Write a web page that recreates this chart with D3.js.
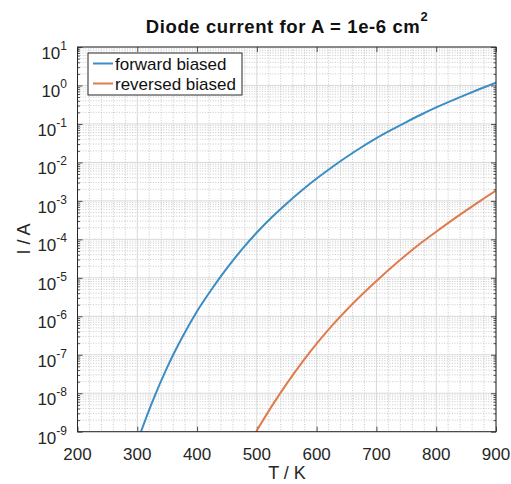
<!DOCTYPE html>
<html>
<head>
<meta charset="utf-8">
<script src="https://cdn.jsdelivr.net/npm/d3@7"></script>
<style>
  html, body { margin: 0; padding: 0; background: #fff; }
  svg { display: block; font-family: "Liberation Sans", Arial, Helvetica, sans-serif; }
</style>
</head>
<body>
<svg id="chart" width="511" height="484"></svg>
<script>
// ---- data ----
const forwardT = [300, 325, 350, 375, 400, 425, 450, 475, 500, 525, 550, 575, 600, 625, 650, 675, 700, 725, 750, 775, 800, 825, 850, 875, 900];
const forwardI = [5.5e-10, 5.9e-9, 4.7e-8, 2.8e-7, 1.35e-6, 5.2e-6, 1.78e-5, 5.5e-5, 1.51e-4, 3.76e-4, 8.6e-4, 1.86e-3, 3.8e-3,
                  7.4e-3, 1.38e-2, 2.48e-2, 4.27e-2, 7.0e-2, 0.112, 0.176, 0.269, 0.398, 0.579, 0.832, 1.175];
const reverseT = [475, 500, 525, 550, 575, 600, 625, 650, 675, 700, 725, 750, 775, 800, 825, 850, 875, 900];
const reverseI = [2.14e-10, 1.07e-9, 4.62e-9, 1.78e-8, 6.17e-8, 1.95e-7, 5.56e-7, 1.46e-6, 3.59e-6, 8.32e-6,
                  1.86e-5, 3.98e-5, 8.13e-5, 1.58e-4, 3.02e-4, 5.62e-4, 1.035e-3, 1.86e-3];
const xTicks = [200, 300, 400, 500, 600, 700, 800, 900];
const yExponents = [-9, -8, -7, -6, -5, -4, -3, -2, -1, 0, 1];
const seriesNames = ["forward biased", "reversed biased"];
const seriesColors = ["#3b8dc5", "#e07b4c"];

// ---- layout ----
const svg = d3.select("#chart");
const pL = 77.5, pR = 496, pT = 47, pB = 431.7;
const x = d3.scaleLinear().domain([200, 900]).range([pL, pR]);
const y = d3.scaleLog().domain([1e-9, 10]).range([pB, pT]);
const axisColor = "#262626";

svg.append("defs").append("clipPath").attr("id", "plotclip")
  .append("rect").attr("x", pL).attr("y", pT).attr("width", pR - pL).attr("height", pB - pT);

// ---- grid ----
const grid = svg.append("g");
const xMinor = d3.range(200, 901, 20).filter(v => v % 100 !== 0);
grid.selectAll(".xminor").data(xMinor).join("line")
  .attr("x1", d => x(d)).attr("x2", d => x(d)).attr("y1", pT).attr("y2", pB)
  .attr("stroke", "#bababa").attr("stroke-width", 0.8).attr("stroke-dasharray", "1 1.6");
const yMinor = [];
yExponents.slice(0, -1).forEach(e => { for (let k = 2; k <= 9; k++) yMinor.push(k * Math.pow(10, e)); });
grid.selectAll(".yminor").data(yMinor).join("line")
  .attr("x1", pL).attr("x2", pR).attr("y1", d => y(d)).attr("y2", d => y(d))
  .attr("stroke", "#bababa").attr("stroke-width", 0.8).attr("stroke-dasharray", "1 1.6");
grid.selectAll(".xmajor").data(xTicks).join("line")
  .attr("x1", d => x(d)).attr("x2", d => x(d)).attr("y1", pT).attr("y2", pB)
  .attr("stroke", "#d8d8d8").attr("stroke-width", 1);
grid.selectAll(".ymajor").data(yExponents).join("line")
  .attr("x1", pL).attr("x2", pR).attr("y1", d => y(Math.pow(10, d))).attr("y2", d => y(Math.pow(10, d)))
  .attr("stroke", "#d8d8d8").attr("stroke-width", 1);

// ---- axes (ticks inward, box) ----
const yMajorVals = yExponents.map(e => Math.pow(10, e));
svg.append("g").attr("transform", `translate(0,${pB})`).call(d3.axisBottom(x).tickValues(xTicks).tickSize(-5).tickFormat(""));
svg.append("g").attr("transform", `translate(0,${pT})`).call(d3.axisTop(x).tickValues(xTicks).tickSize(-5).tickFormat(""));
svg.append("g").attr("transform", `translate(${pL},0)`).call(d3.axisLeft(y).tickValues(yMajorVals).tickSize(-5).tickFormat(""));
svg.append("g").attr("transform", `translate(${pR},0)`).call(d3.axisRight(y).tickValues(yMajorVals).tickSize(-5).tickFormat(""));
svg.append("g").attr("transform", `translate(${pL},0)`).call(d3.axisLeft(y).tickValues(yMinor).tickSize(-2.5).tickFormat(""));
svg.append("g").attr("transform", `translate(${pR},0)`).call(d3.axisRight(y).tickValues(yMinor).tickSize(-2.5).tickFormat(""));
svg.selectAll(".domain").remove();
svg.selectAll(".tick line").attr("stroke", axisColor).attr("stroke-width", 0.8);

// ---- tick labels ----
svg.append("g").selectAll("text").data(xTicks).join("text")
  .attr("x", d => x(d)).attr("y", 460).attr("text-anchor", "middle")
  .attr("font-size", 17).attr("fill", axisColor).text(d => d);
const yl = svg.append("g").selectAll("text").data(yExponents).join("text")
  .attr("x", 67).attr("y", d => y(Math.pow(10, d)) + 12).attr("text-anchor", "end")
  .attr("font-size", 17).attr("fill", axisColor);
yl.append("tspan").text("10");
yl.append("tspan").attr("dy", -9).attr("font-size", 12).text(d => d);

// ---- series ----
const line = d3.line().x(d => x(d[0])).y(d => y(d[1])).curve(d3.curveMonotoneX);
const plot = svg.append("g").attr("clip-path", "url(#plotclip)");
plot.append("path").datum(d3.zip(forwardT, forwardI)).attr("d", line)
  .attr("fill", "none").attr("stroke", seriesColors[0]).attr("stroke-width", 2);
plot.append("path").datum(d3.zip(reverseT, reverseI)).attr("d", line)
  .attr("fill", "none").attr("stroke", seriesColors[1]).attr("stroke-width", 2);

svg.append("rect").attr("x", pL).attr("y", pT).attr("width", pR - pL).attr("height", pB - pT)
  .attr("fill", "none").attr("stroke", axisColor).attr("stroke-width", 1);

// ---- legend ----
const lg = svg.append("g");
lg.append("rect").attr("x", 88).attr("y", 53).attr("width", 154).attr("height", 42)
  .attr("fill", "#fff").attr("stroke", axisColor).attr("stroke-width", 1);
seriesNames.forEach((n, i) => {
  const cy = 63.5 + i * 20;
  lg.append("line").attr("x1", 93).attr("x2", 113).attr("y1", cy).attr("y2", cy)
    .attr("stroke", seriesColors[i]).attr("stroke-width", 2);
  lg.append("text").attr("x", 115).attr("y", cy + 6.5).attr("font-size", 17).attr("fill", "#111").text(n);
});

// ---- titles ----
const title = svg.append("text").attr("x", 287).attr("y", 33).attr("text-anchor", "middle")
  .attr("font-size", 18.5).attr("font-weight", "bold").attr("letter-spacing", 0.6).attr("fill", "#111");
title.append("tspan").text("Diode current for A = 1e-6 cm");
title.append("tspan").attr("dy", -12).attr("font-size", 13).text("2");
svg.append("text").attr("x", 287).attr("y", 479).attr("text-anchor", "middle")
  .attr("font-size", 18).attr("fill", axisColor).text("T / K");
svg.append("text").attr("transform", "translate(30,239) rotate(-90)").attr("text-anchor", "middle")
  .attr("font-size", 18).attr("fill", axisColor).text("I / A");
</script>
</body>
</html>
